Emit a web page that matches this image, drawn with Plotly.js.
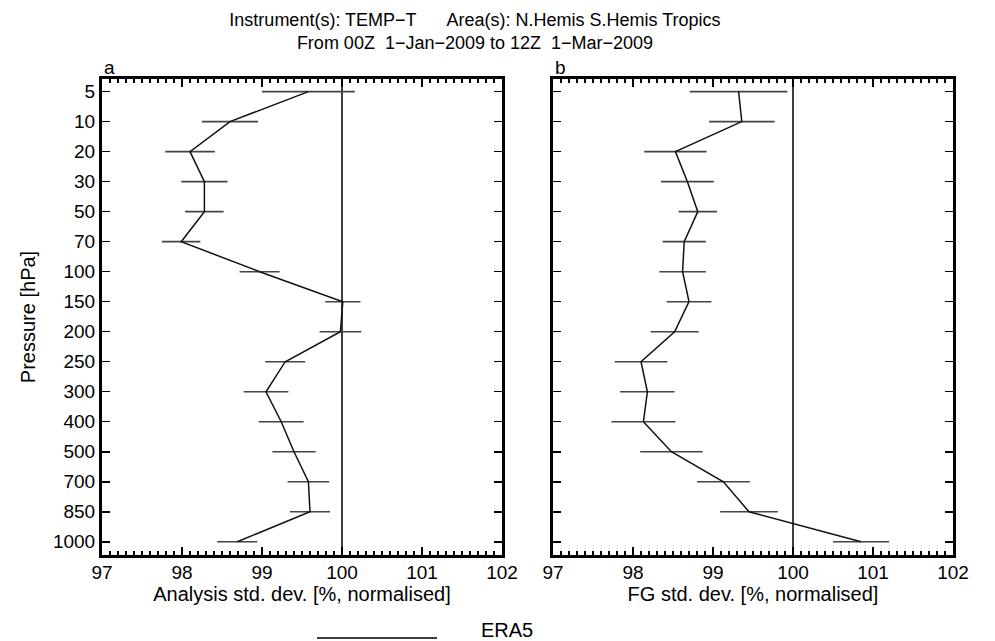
<!DOCTYPE html>
<html>
<head>
<meta charset="utf-8">
<script src="https://cdn.plot.ly/plotly-3.0.1.min.js"></script>
<style>html,body{margin:0;padding:0;background:#fff;}#chart{width:995px;height:641px;}</style>
</head>
<body>
<div id="chart"></div>
<script>
// Pressure levels (hPa), evenly spaced categories
const levels = [5, 10, 20, 30, 50, 70, 100, 150, 200, 250, 300, 400, 500, 700, 850, 1000];
// Panel a: analysis std. dev. [%, normalised]
const anValues = [99.58, 98.60, 98.10, 98.28, 98.28, 97.99, 98.97, 100.01, 99.98, 99.29, 99.05, 99.24, 99.40, 99.58, 99.60, 98.69];
const anErrors = [0.58, 0.35, 0.31, 0.29, 0.24, 0.24, 0.25, 0.22, 0.26, 0.25, 0.28, 0.28, 0.27, 0.26, 0.25, 0.25];
// Panel b: first-guess std. dev. [%, normalised]
const fgValues = [99.32, 99.36, 98.53, 98.68, 98.81, 98.64, 98.62, 98.70, 98.52, 98.10, 98.18, 98.13, 98.48, 99.13, 99.45, 100.85];
const fgErrors = [0.61, 0.41, 0.39, 0.33, 0.24, 0.27, 0.29, 0.28, 0.30, 0.33, 0.34, 0.40, 0.39, 0.33, 0.36, 0.35];
const xTicks = [97, 98, 99, 100, 101, 102];
const refValue = 100;
const seriesName = 'ERA5';

const idx = levels.map((_, i) => i);
const FONT = 'Liberation Sans, Arial, Helvetica, sans-serif';

function trace(vals, errs, xa, ya) {
  return {
    x: vals, y: idx, xaxis: xa, yaxis: ya, type: 'scatter', mode: 'lines',
    name: seriesName, showlegend: false,
    line: {color: '#111', width: 1.5},
    error_x: {type: 'data', array: errs, visible: true, width: 0, thickness: 1.6, color: '#444'},
    hoverinfo: 'x+y'
  };
}

function xax(domain, title, anchor) {
  return {
    domain: domain, anchor: anchor, range: [97, 102], tickvals: xTicks,
    ticktext: xTicks.map(String),
    ticks: 'inside', ticklen: 8, tickwidth: 1.5, tickcolor: '#000',
    minor: {dtick: 0.1, ticks: 'inside', ticklen: 4, tickwidth: 1.2, tickcolor: '#000'},
    showline: true, linewidth: 3, linecolor: '#000', mirror: 'ticks',
    showgrid: false, zeroline: false,
    tickfont: {family: FONT, size: 19, color: '#000'},
    ticklabelstandoff: -2,
    title: {text: title, font: {family: FONT, size: 20, color: '#000'}, standoff: 0},
    fixedrange: true
  };
}
function yax(domainAnchor, showLabels, title) {
  return {
    anchor: domainAnchor, range: [15.44, -0.42],
    tickvals: idx, ticktext: levels.map(String), showticklabels: showLabels,
    ticks: 'inside', ticklen: 8, tickwidth: 1.5, tickcolor: '#000',
    showline: true, linewidth: 3, linecolor: '#000', mirror: 'ticks',
    showgrid: false, zeroline: false,
    tickfont: {family: FONT, size: 19, color: '#000'},
    title: title ? {text: title, font: {family: FONT, size: 20, color: '#000'}, standoff: 12} : {text: ''},
    fixedrange: true
  };
}

const data = [
  trace(anValues, anErrors, 'x', 'y'),
  trace(fgValues, fgErrors, 'x2', 'y2')
];

const PT = 79, PB = 555;
const py = p => (PB - p) / (PB - PT);

const layout = {
  width: 995, height: 641,
  margin: {l: 102, r: 42, t: PT, b: 641 - PB},
  paper_bgcolor: '#fff', plot_bgcolor: '#fff',
  showlegend: false,
  title: {
    text: 'Instrument(s): TEMP\u2212T\u00a0\u00a0\u00a0\u00a0\u00a0\u00a0Area(s): N.Hemis S.Hemis Tropics<br>From 00Z\u00a0\u00a01\u2212Jan\u22122009 to 12Z\u00a0\u00a01\u2212Mar\u22122009',
    font: {family: FONT, size: 18, color: '#000'},
    xref: 'container', x: 475 / 995, xanchor: 'center',
    yref: 'container', y: 1 - 26 / 641, yanchor: 'middle'
  },
  xaxis: xax([0, 400 / 851], 'Analysis std. dev. [%, normalised]', 'y'),
  yaxis: yax('x', true, 'Pressure [hPa]'),
  xaxis2: xax([451 / 851, 1], 'FG std. dev. [%, normalised]', 'y2'),
  yaxis2: yax('x2', false, ''),
  shapes: [
    {type: 'line', xref: 'x', yref: 'paper', x0: refValue, x1: refValue, y0: 0, y1: 1, line: {color: '#000', width: 1.5}, layer: 'below'},
    {type: 'line', xref: 'x2', yref: 'paper', x0: refValue, x1: refValue, y0: 0, y1: 1, line: {color: '#000', width: 1.5}, layer: 'below'},
    {type: 'line', xref: 'paper', yref: 'paper', x0: (317 - 102) / 851, x1: (437 - 102) / 851, y0: py(638), y1: py(638), line: {color: '#000', width: 1.5}}
  ],
  annotations: [
    {text: 'a', xref: 'paper', yref: 'paper', x: 0, xanchor: 'left', y: py(67), yanchor: 'middle', showarrow: false, font: {family: FONT, size: 19, color: '#000'}},
    {text: 'b', xref: 'paper', yref: 'paper', x: 451 / 851, xanchor: 'left', y: py(67), yanchor: 'middle', showarrow: false, font: {family: FONT, size: 19, color: '#000'}},
    {text: seriesName, xref: 'paper', yref: 'paper', x: (507 - 102) / 851, xanchor: 'center', y: py(630), yanchor: 'middle', showarrow: false, font: {family: FONT, size: 20, color: '#000'}}
  ]
};

Plotly.newPlot('chart', data, layout, {displayModeBar: false, staticPlot: true});
</script>
</body>
</html>
